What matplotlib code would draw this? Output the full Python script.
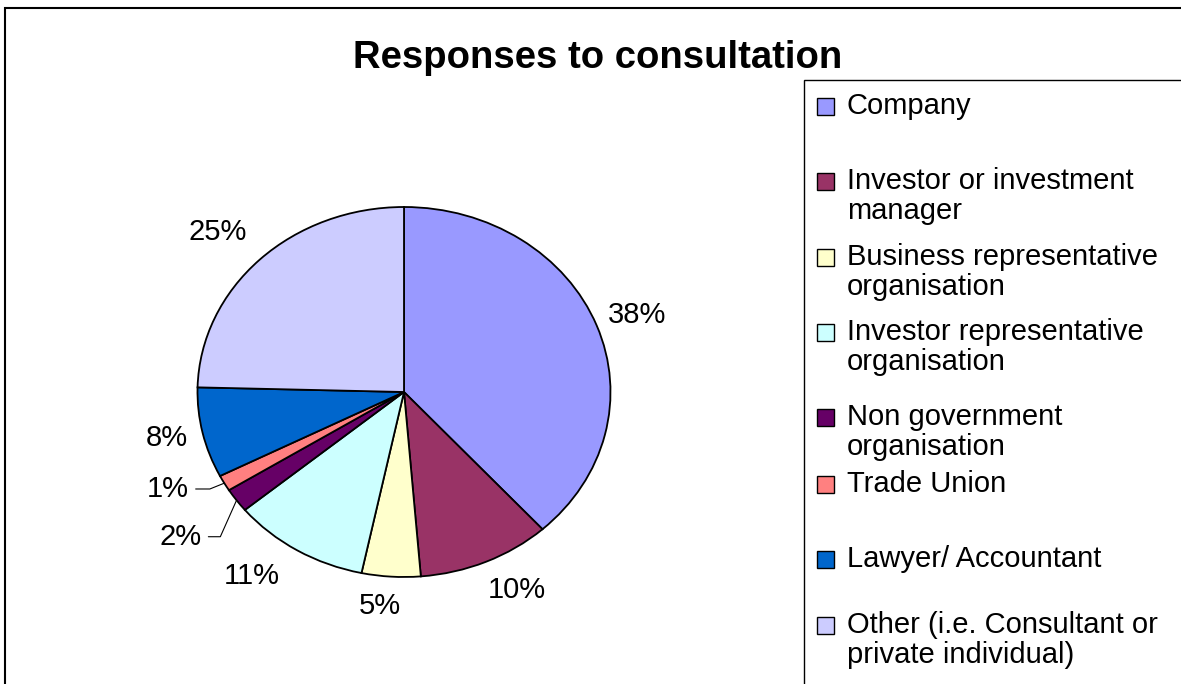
import matplotlib
matplotlib.use("Agg")
import matplotlib.pyplot as plt
from matplotlib.patches import Rectangle
import numpy as np

# ---------------- data ----------------
categories = [
    "Company",
    "Investor or investment\nmanager",
    "Business representative\norganisation",
    "Investor representative\norganisation",
    "Non government\norganisation",
    "Trade Union",
    "Lawyer/ Accountant",
    "Other (i.e. Consultant or\nprivate individual)",
]
shares = [38.3, 10.4, 4.6, 10.7, 2.1, 1.4, 7.9, 24.6]
colors = ["#9999FF", "#993366", "#FFFFCC", "#CCFFFF",
          "#660066", "#FF8080", "#0066CC", "#CCCCFF"]
title = "Responses to consultation"

# ---------------- layout helpers ----------------
W, H = 1181, 684
FONT = "Liberation Sans"
fig = plt.figure(figsize=(W / 100, H / 100), dpi=100)


def fx(px):
    return px / W


def fy(py):
    return 1 - py / H


# outer chart border (right/bottom edges fall outside the image)
fig.patches.append(Rectangle((fx(5), -0.1), 1.2, fy(7.5) + 0.1,
                             transform=fig.transFigure, fill=False,
                             edgecolor="black", lw=1.5))

# ---------------- pie (elliptical, Excel style) ----------------
ax = fig.add_axes([fx(197.5), fy(577), 413 / W, 370 / H])
wedges, _ = ax.pie(shares, colors=colors, startangle=90, counterclock=False,
                   wedgeprops=dict(edgecolor="black", linewidth=1.3))
ax.set_aspect("auto")
ax.set_xlim(-1, 1)
ax.set_ylim(-1, 1)
ax.axis("off")

label_r = 1.2
nudges = [(0.01, -0.015), (0.07, 0.03), (-0.04, 0.04), (-0.115, 0.03),
          (-0.11, -0.08), (-0.10, 0.067), (0.02, 0.016), (-0.063, 0.006)]
leader_angle = [None, None, None, None, 66, 22, None, None]

for w, v, (dx, dy), lead in zip(wedges, shares, nudges, leader_angle):
    mid = np.deg2rad((w.theta1 + w.theta2) / 2)
    tx = label_r * np.cos(mid) + dx
    ty = label_r * np.sin(mid) + dy
    txt = f"{v:.0f}%"
    if lead is None:
        ax.text(tx, ty, txt, ha="center", va="center", fontsize=21,
                family=FONT, clip_on=False)
    else:
        ax.annotate(txt, xy=(np.cos(mid), np.sin(mid)), xytext=(tx, ty),
                    ha="center", va="center", fontsize=21, family=FONT,
                    annotation_clip=False,
                    arrowprops=dict(arrowstyle="-", color="black", lw=0.8,
                                    shrinkA=3, shrinkB=0,
                                    connectionstyle=f"angle,angleA=0,angleB={lead},rad=0"))

# ---------------- title ----------------
fig.text(fx(598), fy(68), title, ha="center", va="baseline", fontsize=27.5,
         fontweight="bold", family=FONT)

# ---------------- legend (Excel style, box runs off the image) ----------------
fig.patches.append(Rectangle((fx(804), -0.1), 1.0, fy(80) + 0.1,
                             transform=fig.transFigure, facecolor="white",
                             edgecolor="black", lw=1.0))
row_baselines = [114, 189, 265, 340, 425, 492, 567, 633]
line_gap = 30
for lab, col, base in zip(categories, colors, row_baselines):
    fig.patches.append(Rectangle((fx(817), fy(base + 1)), 17 / W, 17 / H,
                                 transform=fig.transFigure, facecolor=col,
                                 edgecolor="black", lw=1.0))
    for k, line in enumerate(lab.split("\n")):
        fig.text(fx(847), fy(base + k * line_gap), line, ha="left",
                 va="baseline", fontsize=21, family=FONT)

fig.savefig("out.png", dpi=100)
